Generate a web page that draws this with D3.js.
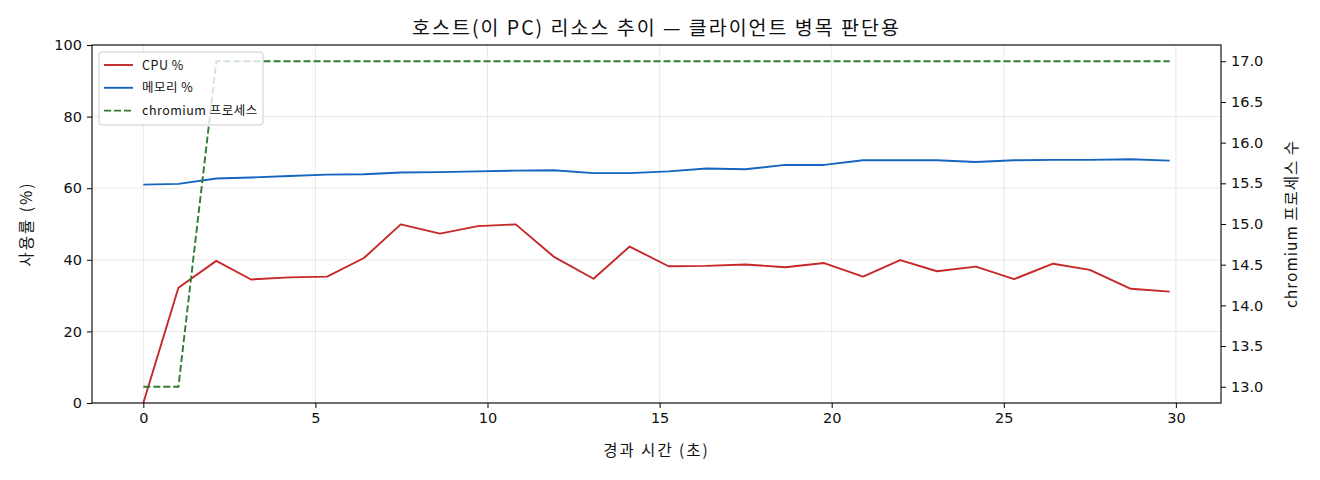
<!DOCTYPE html>
<html>
<head>
<meta charset="utf-8">
<script src="https://cdn.jsdelivr.net/npm/d3@7"></script>
<style>
  html, body { margin: 0; padding: 0; background: #fff; }
  text { font-family: "Noto Sans CJK KR", "Noto Sans", sans-serif; fill: #111; }
</style>
</head>
<body>
<svg id="chart" width="1320" height="480"></svg>
<script>
const timeSec = [0, 1.02, 2.12, 3.13, 4.24, 5.34, 6.41, 7.48, 8.62, 9.72, 10.82, 11.92, 13.08, 14.13,
  15.26, 16.36, 17.49, 18.65, 19.78, 20.91, 21.99, 23.06, 24.19, 25.30, 26.43, 27.50, 28.69, 29.82];
const cpuPct = [0, 32.2, 39.7, 34.5, 35.1, 35.3, 40.5, 49.9, 47.3, 49.4, 49.9, 40.9, 34.7, 43.7,
  38.2, 38.3, 38.7, 37.9, 39.1, 35.3, 39.9, 36.8, 38.1, 34.6, 38.9, 37.2, 31.9, 31.1];
const memPct = [61.0, 61.2, 62.7, 63.0, 63.4, 63.8, 63.9, 64.4, 64.5, 64.7, 64.9, 65.0, 64.2, 64.2,
  64.7, 65.5, 65.3, 66.5, 66.5, 67.8, 67.8, 67.8, 67.3, 67.8, 67.9, 67.9, 68.1, 67.7];
const chromiumProcs = [13, 13, 17, 17, 17, 17, 17, 17, 17, 17, 17, 17, 17, 17,
  17, 17, 17, 17, 17, 17, 17, 17, 17, 17, 17, 17, 17, 17];
const xTicks = [0, 5, 10, 15, 20, 25, 30];
const yLeftTicks = [0, 20, 40, 60, 80, 100];
const yRightTicks = [13.0, 13.5, 14.0, 14.5, 15.0, 15.5, 16.0, 16.5, 17.0];
const seriesNames = ["CPU %", "메모리 %", "chromium 프로세스"];
const titleText = "호스트(이 PC) 리소스 추이 — 클라이언트 병목 판단용";
const xLabel = "경과 시간 (초)";
const yLeftLabel = "사용률 (%)";
const yRightLabel = "chromium 프로세스 수";

const svg = d3.select("#chart");
const L = 92, R = 1221, T = 45, B = 403;
const colors = ["#c62828", "#1565c0", "#2e7d32"];

const xMax = d3.max(timeSec);
const x = d3.scaleLinear().domain([-0.05 * xMax, 1.05 * xMax]).range([L, R]);
const yL = d3.scaleLinear().domain([0, 100]).range([B, T]);
const rMin = d3.min(chromiumProcs), rMax = d3.max(chromiumProcs), rPad = (rMax - rMin) * 0.05;
const yR = d3.scaleLinear().domain([rMin - rPad, rMax + rPad]).range([B, T]);

// grid
const grid = svg.append("g").attr("stroke", "#b0b0b0").attr("stroke-opacity", 0.35).attr("stroke-width", 0.8);
xTicks.forEach(t => grid.append("line").attr("x1", x(t)).attr("x2", x(t)).attr("y1", T).attr("y2", B));
yLeftTicks.forEach(t => grid.append("line").attr("x1", L).attr("x2", R).attr("y1", yL(t)).attr("y2", yL(t)));

// clip
svg.append("clipPath").attr("id", "clip").append("rect").attr("x", L).attr("y", T).attr("width", R - L).attr("height", B - T);

const plot = svg.append("g").attr("clip-path", "url(#clip)");
const lineL = vals => d3.line().x((d, i) => x(timeSec[i])).y(d => yL(d))(vals);
const lineR = vals => d3.line().x((d, i) => x(timeSec[i])).y(d => yR(d))(vals);

plot.append("path").attr("d", lineL(cpuPct)).attr("fill", "none").attr("stroke", colors[0]).attr("stroke-width", 1.9).attr("stroke-linejoin", "round");
plot.append("path").attr("d", lineL(memPct)).attr("fill", "none").attr("stroke", colors[1]).attr("stroke-width", 1.9).attr("stroke-linejoin", "round");
plot.append("path").attr("d", lineR(chromiumProcs)).attr("fill", "none").attr("stroke", colors[2]).attr("stroke-width", 1.9).attr("stroke-dasharray", "7,3");

// axes
const ax = svg.append("g").attr("transform", `translate(0,${B})`)
  .call(d3.axisBottom(x).tickValues(xTicks).tickFormat(d3.format("d")).tickSize(5).tickPadding(5));
const ayl = svg.append("g").attr("transform", `translate(${L},0)`)
  .call(d3.axisLeft(yL).tickValues(yLeftTicks).tickFormat(d3.format("d")).tickSize(5).tickPadding(5));
const ayr = svg.append("g").attr("transform", `translate(${R},0)`)
  .call(d3.axisRight(yR).tickValues(yRightTicks).tickFormat(d3.format(".1f")).tickSize(5).tickPadding(5));
[ax, ayl, ayr].forEach(g => {
  g.select(".domain").remove();
  g.selectAll(".tick line").attr("stroke", "#000").attr("stroke-width", 1);
  g.selectAll(".tick text").style("font-size", "14.5px").style("font-family", "'DejaVu Sans', sans-serif").attr("fill", "#111");
});

// frame
svg.append("rect").attr("x", L).attr("y", T).attr("width", R - L).attr("height", B - T)
  .attr("fill", "none").attr("stroke", "#000").attr("stroke-width", 1.1);

// title & labels
svg.append("text").attr("x", (L + R) / 2).attr("y", 35).attr("text-anchor", "middle")
  .style("font-size", "19.5px").style("letter-spacing", "2px").text(titleText);
svg.append("text").attr("x", (L + R) / 2).attr("y", 456).attr("text-anchor", "middle")
  .style("font-size", "15.5px").style("letter-spacing", "2px").text(xLabel);
svg.append("text").attr("transform", `translate(32,${(T + B) / 2}) rotate(-90)`).attr("text-anchor", "middle")
  .style("font-size", "15.5px").style("letter-spacing", "2px").text(yLeftLabel);
svg.append("text").attr("transform", `translate(1297,${(T + B) / 2}) rotate(-90)`).attr("text-anchor", "middle")
  .style("font-size", "15.5px").style("letter-spacing", "1px").text(yRightLabel);

// legend
const lg = svg.append("g");
lg.append("rect").attr("x", 99).attr("y", 52).attr("width", 164).attr("height", 73).attr("rx", 3)
  .attr("fill", "#fff").attr("fill-opacity", 0.8).attr("stroke", "#ccc").attr("stroke-width", 1);
seriesNames.forEach((name, i) => {
  const yy = 65 + i * 22.8;
  lg.append("line").attr("x1", 104).attr("x2", 133).attr("y1", yy).attr("y2", yy)
    .attr("stroke", colors[i]).attr("stroke-width", 1.9).attr("stroke-dasharray", i === 2 ? "7,3" : null);
  lg.append("text").attr("x", 142).attr("y", yy + 4.5).style("font-size", "12.5px").style("letter-spacing", "0.5px").text(name);
});
</script>
</body>
</html>
